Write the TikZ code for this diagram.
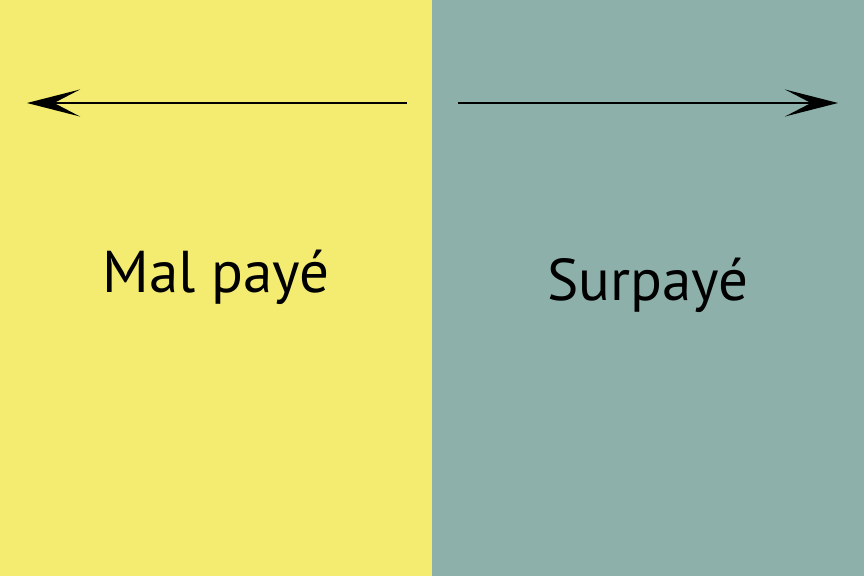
\documentclass[tikz,border=0pt]{standalone}
\usepackage{fontspec}
\setmainfont{PT Sans}
\usetikzlibrary{arrows.meta}

\definecolor{lowpay}{RGB}{243,236,112}
\definecolor{highpay}{RGB}{141,177,170}

\begin{document}
\begin{tikzpicture}[
  x=1pt, y=1pt,
  panel/.style={draw=none},
  label/.style={font=\fontsize{59}{63}\selectfont, anchor=base, inner sep=0pt},
  dir/.style={line width=2.2pt, -{Stealth[length=53pt, width=27pt, inset=26pt]}},
]
  % Background halves
  \useasboundingbox (0,0) rectangle (864,576);
  \fill[panel, lowpay]  (0,0) rectangle (432,576);
  \fill[panel, highpay] (432,0) rectangle (864,576);

  % Arrow ends
  \coordinate (ls) at (407,473);
  \coordinate (le) at (27,473);
  \coordinate (rs) at (458,473);
  \coordinate (re) at (838,473);
  \draw[dir] (ls) -- (le);
  \draw[dir] (rs) -- (re);

  % Labels
  \node[label] (under) at (216,283) {Mal payé};
  \node[label] (over)  at (648,275) {Surpayé};
\end{tikzpicture}
\end{document}
